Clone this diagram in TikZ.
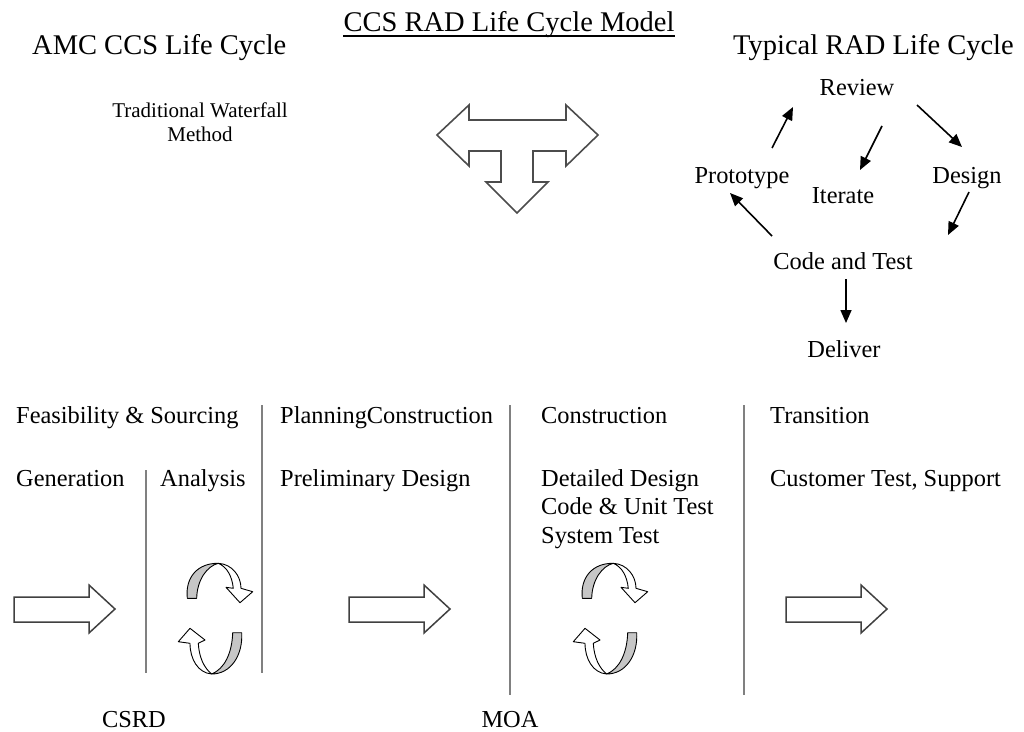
\documentclass[tikz,border=0pt]{standalone}
\usepackage{fontspec}
\setmainfont{Liberation Serif}
\usetikzlibrary{arrows.meta}
\begin{document}
\begin{tikzpicture}[x=1pt,y=-1pt,
  head/.style={font=\fontsize{28.5}{30}\selectfont, inner sep=0pt},
  body/.style={font=\fontsize{24.4}{26}\selectfont, inner sep=0pt},
  small/.style={font=\fontsize{21}{23}\selectfont, inner sep=0pt},
  cyc/.style={draw=black, line width=1.6pt, -{Triangle[length=13pt,width=11pt]}},
  divider/.style={draw=black!50, line width=2pt},
  blockarrow/.style={draw=black!75, line width=1.5pt, fill=white, line join=miter},
  ribbon/.style={draw=black, line width=0.9pt, line join=round},
]
\useasboundingbox (0,0) rectangle (1024,731);

% titles
\node[head, anchor=base] (title) at (509,31) {CCS RAD Life Cycle Model};
\draw[line width=1.3pt] ([yshift=-5pt]title.base west) -- ([yshift=-5pt]title.base east);
\node[head, anchor=base west] (amc) at (32,54) {AMC CCS Life Cycle};
\node[head, anchor=base west] (typ) at (733,54) {Typical RAD Life Cycle};
\node[small, anchor=base] (trad) at (200,117) {Traditional Waterfall};
\node[small, anchor=base] (meth) at (200,141) {Method};

% T arrow
\draw[draw=black!70, line width=1.6pt, fill=white, line join=miter] (437,135) -- (469,105) -- (469,120) -- (566,120) -- (566,105) -- (598,135) -- (566,166) -- (566,151) -- (533,151) -- (533,182) -- (548,182) -- (517,213) -- (486,182) -- (501,182) -- (501,151) -- (469,151) -- (469,166) -- cycle;

% RAD cycle
\node[body, anchor=base] (review) at (857,95) {Review};
\node[body, anchor=base] (proto) at (742,183) {Prototype};
\node[body, anchor=base] (iter) at (843,203) {Iterate};
\node[body, anchor=base] (design) at (967,183) {Design};
\node[body, anchor=base] (code) at (843,269) {Code and Test};
\node[body, anchor=base] (deliver) at (844,357) {Deliver};

\coordinate (pr1) at (772,148); \coordinate (pr2) at (793,107);
\coordinate (ri1) at (882,126); \coordinate (ri2) at (860,170);
\coordinate (rd1) at (917,105); \coordinate (rd2) at (962,147);
\coordinate (dc1) at (969,192); \coordinate (dc2) at (948,235);
\coordinate (cp1) at (772,236); \coordinate (cp2) at (730,193);
\coordinate (cd1) at (846,279); \coordinate (cd2) at (846,323);
\draw[cyc] (pr1) -- (pr2);
\draw[cyc] (ri1) -- (ri2);
\draw[cyc] (rd1) -- (rd2);
\draw[cyc] (dc1) -- (dc2);
\draw[cyc] (cp1) -- (cp2);
\draw[cyc] (cd1) -- (cd2);

% phase labels
\node[body, anchor=base west] (feas) at (16,423) {Feasibility \& Sourcing};
\node[body, anchor=base west] (plan) at (280,423) {PlanningConstruction};
\node[body, anchor=base west] (cons) at (541,423) {Construction};
\node[body, anchor=base west] (trans) at (770,423) {Transition};
\node[body, anchor=base west] (gen) at (16,486) {Generation};
\node[body, anchor=base west] (ana) at (160,486) {Analysis};
\node[body, anchor=base west] (prel) at (280,486) {Preliminary Design};
\node[body, anchor=base west] (det) at (541,486) {Detailed Design};
\node[body, anchor=base west] (cut) at (541,514) {Code \& Unit Test};
\node[body, anchor=base west] (sys) at (541,543) {System Test};
\node[body, anchor=base west] (cust) at (770,486) {Customer Test, Support};
\node[body, anchor=base] (csrd) at (134,727) {CSRD};
\node[body, anchor=base] (moa) at (510,727) {MOA};

% dividers
\draw[divider] (146,470) -- (146,673);
\draw[divider] (262,405) -- (262,673);
\draw[divider] (510,405) -- (510,695);
\draw[divider] (744,405) -- (744,695);

% block arrows
\draw[blockarrow] (14,597) -- (89,597) -- (89,585) -- (115,609) -- (89,633) -- (89,622) -- (14,622) -- cycle;
\draw[blockarrow] (349,597) -- (424,597) -- (424,585) -- (450,609) -- (424,633) -- (424,622) -- (349,622) -- cycle;
\draw[blockarrow] (786,597) -- (861,597) -- (861,585) -- (887,609) -- (861,633) -- (861,622) -- (786,622) -- cycle;

% curved arrow pairs
\foreach \dx in {0,395}{
\begin{scope}[shift={(\dx,0)}]
\filldraw[ribbon, fill=gray!45] (187.3,598.3) .. controls (185,577) and (198,563) .. (218.3,563.3) .. controls (207,566) and (197,580) .. (196.7,598.3) -- cycle;
\filldraw[ribbon, fill=white] (218.3,563.3) .. controls (232,564) and (241,576) .. (241,588.3) -- (252.7,591.7) -- (240,602.7) -- (226,587.3) -- (233.3,588.3) .. controls (232,576) and (227,567) .. (218.3,563.3) -- cycle;
\filldraw[ribbon, fill=gray!45] (241.7,632.7) .. controls (243,655) and (231,674) .. (211.7,674) .. controls (224,669) and (232,654) .. (232.7,632.7) -- cycle;
\filldraw[ribbon, fill=white] (211.7,674) .. controls (198,673) and (190,659) .. (190,643.3) -- (178.3,641.7) -- (190,628.3) -- (205,640) -- (198.3,643.3) .. controls (199,657) and (204,668) .. (211.7,674) -- cycle;
\end{scope}}
\end{tikzpicture}
\end{document}
